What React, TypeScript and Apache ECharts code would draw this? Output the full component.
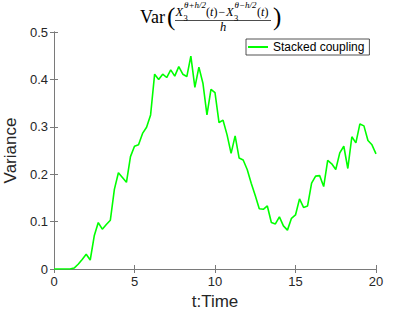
import React, { useEffect, useRef } from "react";
import * as echarts from "echarts";

const times = [
  0, 0.25, 0.5, 0.75, 1, 1.25, 1.5, 1.75, 2, 2.25, 2.5, 2.75, 3, 3.25, 3.5, 3.75,
  4, 4.25, 4.5, 4.75, 5, 5.25, 5.5, 5.75, 6, 6.25, 6.5, 6.75, 7, 7.25, 7.5, 7.75,
  8, 8.25, 8.5, 8.75, 9, 9.25, 9.5, 9.75, 10, 10.25, 10.5, 10.75, 11, 11.25, 11.5, 11.75,
  12, 12.25, 12.5, 12.75, 13, 13.25, 13.5, 13.75, 14, 14.25, 14.5, 14.75, 15, 15.25, 15.5, 15.75,
  16, 16.25, 16.5, 16.75, 17, 17.25, 17.5, 17.75, 18, 18.25, 18.5, 18.75, 19, 19.25, 19.5, 19.75, 20,
];

const variance = [
  0, 0, 0, 0, 0, 0.002, 0.01, 0.02, 0.031, 0.019, 0.07, 0.098, 0.084, 0.094, 0.103, 0.168,
  0.203, 0.193, 0.183, 0.237, 0.259, 0.262, 0.286, 0.299, 0.325, 0.411, 0.4, 0.411, 0.404, 0.42, 0.407, 0.427,
  0.411, 0.406, 0.449, 0.383, 0.426, 0.392, 0.325, 0.379, 0.372, 0.309, 0.314, 0.283, 0.244, 0.281, 0.234, 0.23,
  0.21, 0.181, 0.155, 0.127, 0.126, 0.133, 0.098, 0.095, 0.11, 0.091, 0.082, 0.107, 0.114, 0.148, 0.13, 0.133,
  0.181, 0.196, 0.197, 0.174, 0.229, 0.222, 0.21, 0.245, 0.259, 0.212, 0.279, 0.266, 0.306, 0.302, 0.271, 0.262, 0.243,
];

const seriesName = "Stacked coupling";
const xAxisName = "t:Time";
const yAxisName = "Variance";

const SANS = "Liberation Sans, Arial, Helvetica, sans-serif";
const SERIF = "Liberation Serif, Times New Roman, serif";
const AXIS_COLOR = "#7a7a7a";
const TEXT_COLOR = "#262626";

function txt(text: string, x: number, y: number, size: number, italic = false, align = "left") {
  return {
    type: "text",
    x,
    y,
    style: {
      text,
      font: `${italic ? "italic " : ""}${size}px ${SERIF}`,
      fill: "#000",
      textAlign: align,
      textVerticalAlign: "middle",
    },
  };
}

export default function App() {
  const ref = useRef<HTMLDivElement>(null);
  useEffect(() => {
    if (!ref.current) return;
    const chart = echarts.init(ref.current, undefined, { renderer: "svg" });
    const axisCommon = {
      type: "value" as const,
      axisLine: { show: true, lineStyle: { color: AXIS_COLOR, width: 1 } },
      axisTick: { show: true, inside: true, length: 4, lineStyle: { color: AXIS_COLOR } },
      splitLine: { show: false },
    };
    chart.setOption({
      animation: false,
      backgroundColor: "#fff",
      grid: { left: 54, right: 39, top: 32, bottom: 43, containLabel: false, outerBoundsMode: "none" },
      xAxis: [
        {
          ...axisCommon,
          min: 0,
          max: 20,
          interval: 5,
          position: "bottom",
          name: xAxisName,
          nameLocation: "middle",
          nameGap: 20,
          nameTextStyle: { fontSize: 17, color: TEXT_COLOR, fontFamily: SANS },
          axisLabel: { fontSize: 13, color: TEXT_COLOR, fontFamily: SANS, margin: 6 },
        },
        {
          ...axisCommon,
          min: 0,
          max: 20,
          interval: 5,
          position: "top",
          axisLabel: { show: false },
        },
      ],
      yAxis: [
        {
          ...axisCommon,
          min: 0,
          max: 0.5,
          interval: 0.1,
          position: "left",
          name: yAxisName,
          nameLocation: "middle",
          nameGap: 23,
          nameTextStyle: { fontSize: 17, color: TEXT_COLOR, fontFamily: SANS },
          axisLabel: { fontSize: 13, color: TEXT_COLOR, fontFamily: SANS, margin: 6 },
        },
        {
          ...axisCommon,
          min: 0,
          max: 0.5,
          interval: 0.1,
          position: "right",
          axisLabel: { show: false },
        },
      ],
      legend: {
        show: true,
        left: 246,
        top: 39,
        orient: "vertical",
        icon: "rect",
        itemWidth: 20,
        itemHeight: 2,
        padding: [2, 5, 2, 2],
        borderColor: "#262626",
        borderWidth: 0.8,
        backgroundColor: "#fff",
        textStyle: { fontSize: 12, color: "#000", fontFamily: SANS },
        data: [seriesName],
      },
      series: [
        {
          name: seriesName,
          type: "line",
          data: times.map((t, i) => [t, variance[i]]),
          symbol: "none",
          lineStyle: { color: "#00ff00", width: 1.6 },
          itemStyle: { color: "#00ff00" },
        },
      ],
      graphic: [
        txt("Var", 140, 17, 18),
        txt("(", 167, 16, 25),
        txt("X", 175.5, 12, 12.5, true),
        txt("θ+h/2", 184, 5, 9, true),
        txt("3", 183.5, 18, 8.5),
        txt("(", 206, 12, 12),
        txt("t", 210, 12, 12, true),
        txt(")", 213.5, 12, 12),
        txt("−", 218.5, 12, 12),
        txt("X", 226, 12, 12.5, true),
        txt("θ−h/2", 234.5, 5, 9, true),
        txt("3", 234, 18, 8.5),
        txt("(", 257, 12, 12),
        txt("t", 261, 12, 12, true),
        txt(")", 264.5, 12, 12),
        {
          type: "line",
          shape: { x1: 175, y1: 20.5, x2: 271, y2: 20.5 },
          style: { stroke: "#000", lineWidth: 0.7 },
        },
        txt("h", 223, 26.5, 12.5, true, "center"),
        txt(")", 273, 16, 25),
      ],
    });
    return () => chart.dispose();
  }, []);
  return (
    <div
      ref={ref}
      style={{ position: "fixed", left: 0, top: 0, width: 415, height: 312, background: "#fff" }}
    />
  );
}
